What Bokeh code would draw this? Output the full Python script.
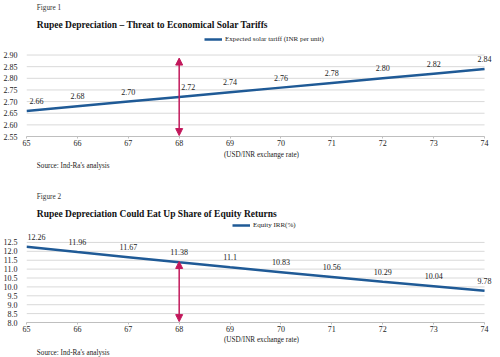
from bokeh.plotting import figure
from bokeh.layouts import column
from bokeh.models import (Label, Legend, LegendItem, FixedTicker, NumeralTickFormatter,
                          Range1d, Arrow, NormalHead, ColumnDataSource)
from bokeh.core.properties import value
from bokeh.embed import file_html
from bokeh.resources import INLINE

# ---- data ----
exchange_rate = [65, 66, 67, 68, 69, 70, 71, 72, 73, 74]
solar_tariff = [2.66, 2.68, 2.70, 2.72, 2.74, 2.76, 2.78, 2.80, 2.82, 2.84]
tariff_labels = ["2.66", "2.68", "2.70", "2.72", "2.74", "2.76", "2.78", "2.80", "2.82", "2.84"]
equity_irr = [12.26, 11.96, 11.67, 11.38, 11.1, 10.83, 10.56, 10.29, 10.04, 9.78]
irr_labels = ["12.26", "11.96", "11.67", "11.38", "11.1", "10.83", "10.56", "10.29", "10.04", "9.78"]
tariff_ticks = [2.55, 2.60, 2.65, 2.70, 2.75, 2.80, 2.85, 2.90]
irr_ticks = [8.0, 8.5, 9.0, 9.5, 10.0, 10.5, 11.0, 11.5, 12.0, 12.5]
marker_rate = 68
arrow1_span = (2.554, 2.887)
arrow2_span = (11.43, 8.05)

FONT = "Liberation Serif"
LINE = "#1F5A96"
ARROW = "#C2185B"
GRID = "#D9D9D9"
TXT = "#222222"
W = 500


def text_strip(height, items):
    """A strip whose frame is the whole canvas; y grows downward in pixels."""
    p = figure(width=W, height=height, output_backend="svg", toolbar_location=None,
               x_range=Range1d(0, W), y_range=Range1d(height, 0),
               x_axis_location=None, y_axis_location=None, min_border=0)
    p.outline_line_color = None
    for g in p.grid:
        g.visible = False
    for (x, y, txt, size, style, color) in items:
        p.add_layout(Label(x=x, y=y, text=txt, text_font=FONT, text_font_size=size,
                           text_font_style=style, text_color=color,
                           text_baseline="middle", text_align="left"))
    return p


def chart(ys, labels, ticks, fmt, legend_text, legend_pos, arrow_span, label_dx,
          height, frame_h, top_px, bottom_border, xlabel_standoff):
    ymin, ymax = ticks[0], ticks[-1]
    plot_px = frame_h - top_px
    y_end = ymax + (ymax - ymin) * top_px / plot_px
    x_end = exchange_rate[-1] + (exchange_rate[-1] - exchange_rate[0]) * 12 / 460
    p = figure(width=W, height=height, output_backend="svg", toolbar_location=None,
               x_range=Range1d(exchange_rate[0], x_end), y_range=Range1d(ymin, y_end),
               min_border_left=24, min_border_right=4, min_border_top=0,
               min_border_bottom=bottom_border)
    p.outline_line_color = None
    for g in p.grid:
        g.visible = False

    # horizontal gridlines at the value ticks, across the plotted x span
    p.segment(x0=[exchange_rate[0]] * len(ticks), x1=[exchange_rate[-1]] * len(ticks),
              y0=ticks, y1=ticks, line_color=GRID, line_width=1)

    p.yaxis.ticker = FixedTicker(ticks=ticks)
    p.yaxis.formatter = NumeralTickFormatter(format=fmt)
    p.xaxis.ticker = FixedTicker(ticks=exchange_rate)
    p.xaxis.bounds = (exchange_rate[0], exchange_rate[-1])
    for ax in (p.xaxis[0], p.yaxis[0]):
        ax.major_label_text_font = FONT
        ax.major_label_text_font_size = "8px"
        ax.major_label_text_color = TXT
        ax.minor_tick_line_color = None
    p.yaxis.axis_line_color = None
    p.yaxis.major_tick_line_color = None
    p.yaxis.major_label_standoff = 3
    p.xaxis.axis_line_color = "#BFBFBF"
    p.xaxis.major_tick_line_color = "#BFBFBF"
    p.xaxis.major_tick_in = 0
    p.xaxis.major_tick_out = 2
    p.xaxis.major_label_standoff = 1
    p.xaxis.axis_label = "(USD/INR exchange rate)"
    p.xaxis.axis_label_text_font = FONT
    p.xaxis.axis_label_text_font_size = "7.2px"
    p.xaxis.axis_label_text_font_style = "normal"
    p.xaxis.axis_label_text_color = TXT
    p.xaxis.axis_label_standoff = xlabel_standoff

    dx = [label_dx.get(i, 0) for i in range(len(labels))]
    src = ColumnDataSource(dict(x=exchange_rate, y=ys, t=labels, dx=dx))
    r = p.line("x", "y", source=src, line_color=LINE, line_width=2.5)
    p.text("x", "y", text="t", source=src, x_offset="dx", y_offset=-10,
           text_font=value(FONT), text_font_size="8px", text_color=TXT,
           text_align="center", text_baseline="middle")

    p.add_layout(Arrow(start=NormalHead(size=7, fill_color=ARROW, line_color=ARROW),
                       end=NormalHead(size=7, fill_color=ARROW, line_color=ARROW),
                       x_start=marker_rate, y_start=arrow_span[0],
                       x_end=marker_rate, y_end=arrow_span[1],
                       line_color=ARROW, line_width=1.5))

    leg = Legend(items=[LegendItem(label=legend_text, renderers=[r])],
                 location=legend_pos, orientation="horizontal",
                 glyph_width=18, glyph_height=10, label_height=10, label_standoff=3,
                 padding=0, margin=0, spacing=0,
                 border_line_alpha=0, background_fill_alpha=0,
                 label_text_font=FONT, label_text_font_size="7px",
                 label_text_color=TXT)
    p.add_layout(leg)
    return p


head1 = text_strip(30, [
    (11, 7, "Figure 1", "7.2px", "normal", "#333333"),
    (11, 24, "Rupee Depreciation \u2013 Threat to Economical Solar Tariffs", "9.5px", "bold", "#111111"),
])
chart1 = chart(solar_tariff, tariff_labels, tariff_ticks, "0.00",
               "Expected solar tariff (INR per unit)", (178, 92), arrow1_span, {0: 10, 3: 9},
               height=131, frame_h=108, top_px=25, bottom_border=23, xlabel_standoff=2)
foot1 = text_strip(19, [
    (11, 4.5, "Source: Ind-Ra's analysis", "7.2px", "normal", TXT),
])

head2 = text_strip(40, [
    (11, 16, "Figure 2", "7.2px", "normal", "#333333"),
    (11, 33, "Rupee Depreciation Could Eat Up Share of Equity Returns", "9.5px", "bold", "#111111"),
])
chart2 = chart(equity_irr, irr_labels, irr_ticks, "0.0",
               "Equity IRR(%)", (206, 92), arrow2_span, {0: 10},
               height=126, frame_h=107, top_px=23, bottom_border=19, xlabel_standoff=1)
foot2 = text_strip(11, [
    (11, 5, "Source: Ind-Ra's analysis", "7.2px", "normal", TXT),
])

layout = column(head1, chart1, foot1, head2, chart2, foot2, spacing=0)
open("out.html", "w").write(file_html(layout, INLINE))
